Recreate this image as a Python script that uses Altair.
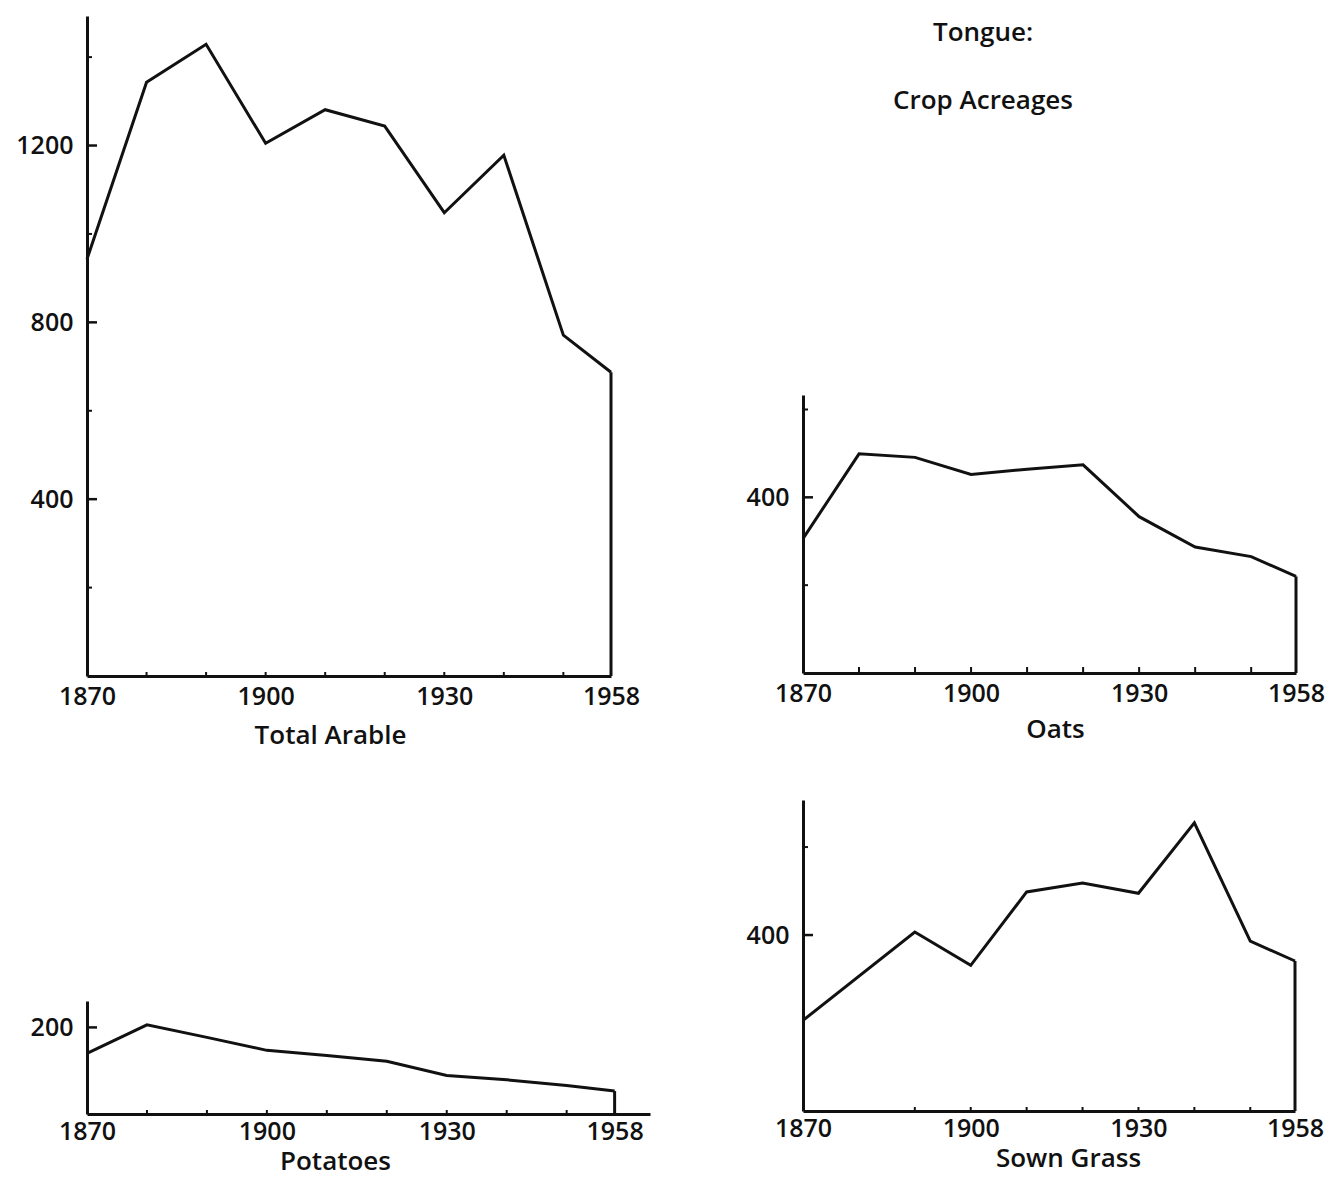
import altair as alt
import pandas as pd

# ---- data (acres) ----
arable_years = [1870, 1880, 1890, 1900, 1910, 1920, 1930, 1940, 1950, 1958]
arable_values = [943, 1343, 1429, 1205, 1281, 1244, 1048, 1178, 771, 687]

oats_years = [1870, 1880, 1890, 1900, 1910, 1920, 1930, 1940, 1950, 1958]
oats_values = [306, 499, 491, 452, 464, 474, 356, 287, 265, 220]

potato_years = [1870, 1880, 1890, 1900, 1910, 1920, 1930, 1940, 1950, 1958]
potato_values = [140, 206, 177, 147, 135, 122, 89, 79, 66, 53]

grass_years = [1870, 1890, 1900, 1910, 1920, 1930, 1940, 1950, 1958]
grass_values = [206, 407, 331, 498, 518, 495, 655, 386, 341]

x_tick_labels = [1870, 1900, 1930, 1958]
x_minor_years = [1880, 1890, 1900, 1910, 1920, 1930, 1940, 1950]
title_lines = ["Tongue:", "Crop Acreages"]
title_rows = [0, 1]

FONT = "Open Sans"
FS = 25
TFS = 26
WEIGHT = 600
INK = "#111111"


def panel(years, values, title, xdom, ydom, ymajor, yminor, width, height,
          title_x, label_pad=8, title_pad=10, minor_years=x_minor_years,
          minor_len=4):
    df = pd.DataFrame({"year": years, "value": values})
    last = pd.DataFrame({"year": [years[-1]], "value": [values[-1]]})
    major_df = pd.DataFrame({"value": ymajor})
    minor_df = pd.DataFrame({"value": yminor})
    xminor_df = pd.DataFrame({"year": minor_years})

    xscale = alt.Scale(domain=xdom, nice=False, zero=False)
    yscale = alt.Scale(domain=ydom, nice=False, zero=False)

    x_enc = alt.X("year:Q", scale=xscale,
                  axis=alt.Axis(values=x_tick_labels, format="d", title=title,
                                tickSize=0, labelPadding=label_pad,
                                labelFlush=False, labelOverlap=False,
                                domainWidth=3, domainColor=INK,
                                labelColor=INK, titleColor=INK,
                                labelFont=FONT, titleFont=FONT,
                                labelFontSize=FS, labelFontWeight=WEIGHT,
                                titleFontSize=TFS, titleFontWeight=WEIGHT,
                                titlePadding=title_pad, titleX=title_x,
                                titleAnchor="start", titleAlign="center",
                                grid=False))
    y_enc = alt.Y("value:Q", scale=yscale,
                  axis=alt.Axis(values=ymajor, format="d", title=None,
                                tickSize=0, labelPadding=14, domainWidth=3,
                                domainColor=INK, labelColor=INK,
                                labelFont=FONT, labelFontSize=FS,
                                labelFontWeight=WEIGHT, grid=False))

    line = alt.Chart(df).mark_line(color=INK, strokeWidth=3,
                                   strokeJoin="miter").encode(x=x_enc, y=y_enc)
    drop = alt.Chart(last).mark_rule(color=INK, strokeWidth=3).encode(
        x="year:Q", y="value:Q", y2=alt.datum(0))
    ymaj = alt.Chart(major_df).mark_rule(color=INK, strokeWidth=2.5).encode(
        y="value:Q", x=alt.value(0), x2=alt.value(10))
    layers = [line, drop, ymaj]
    if yminor:
        ymin = alt.Chart(minor_df).mark_rule(color=INK, strokeWidth=2).encode(
            y="value:Q", x=alt.value(0), x2=alt.value(5))
        layers.append(ymin)
    xmin = alt.Chart(xminor_df).mark_rule(color=INK, strokeWidth=2).encode(
        x="year:Q", y=alt.value(height), y2=alt.value(height - minor_len))
    layers.append(xmin)

    return alt.layer(*layers).properties(width=width, height=height)


arable = panel(arable_years, arable_values, "Total Arable", [1870, 1958],
               [0, 1493], [400, 800, 1200], [200, 600, 1000, 1400],
               524, 660, 243, title_pad=13)
potatoes = panel(potato_years, potato_values, "Potatoes", [1870, 1963.9],
                 [0, 261], [200], [], 563, 113, 248, label_pad=5, title_pad=4)
oats = panel(oats_years, oats_values, "Oats", [1870, 1958],
             [0, 633], [400], [200, 600], 493, 278, 252, minor_len=6)
grass = panel(grass_years, grass_values, "Sown Grass", [1870, 1958],
              [0, 707], [400], [600], 492, 311, 265, label_pad=5, title_pad=4,
              minor_years=[1890, 1900, 1910, 1920, 1930, 1940, 1950])

heading_df = pd.DataFrame({"line": title_lines, "row": title_rows})
heading = alt.Chart(heading_df).mark_text(
    font=FONT, fontSize=TFS, fontWeight=WEIGHT, color=INK,
    baseline="middle", align="center"
).encode(
    text="line:N",
    x=alt.value(180),
    y=alt.Y("row:O", axis=None,
            scale=alt.Scale(type="point", range=[17, 85], padding=0)),
).properties(width=490, height=321)

left = alt.vconcat(arable, potatoes, spacing=253)
right = alt.vconcat(heading, oats, grass, spacing=58)

chart = alt.hconcat(left, right, spacing=96).properties(
    padding={"left": 7, "top": 8, "right": 0, "bottom": 4},
    background="white"
).configure_view(stroke=None)

chart.save("out.html", embed_options={"renderer": "svg", "actions": False})
